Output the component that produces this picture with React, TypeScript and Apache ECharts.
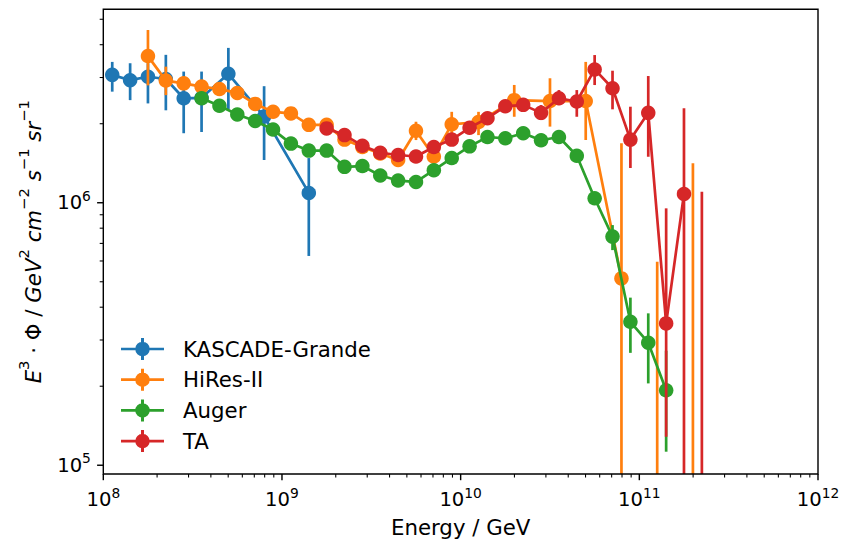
import React, { useEffect, useRef } from "react";
import * as echarts from "echarts";

const FONT = "DejaVu Sans";
const COLORS = ["#1f77b4", "#ff7f0e", "#2ca02c", "#d62728"];

// axis ranges
const X_MIN = 1e8;
const X_MAX = 1e12;
const Y_MIN = 9.26e4;
const Y_MAX = 5.457e6;

// ticks
const xMajorTicks = [1e8, 1e9, 1e10, 1e11, 1e12];
const xTickExponents = ["8", "9", "10", "11", "12"];
const xDecades = [1e8, 1e9, 1e10, 1e11];
const yMajorTicks = [1e5, 1e6];
const yTickExponents = ["5", "6"];
const yDecades = [1e5, 1e6];
const minorMantissas = [2, 3, 4, 5, 6, 7, 8, 9];

// KASCADE-Grande
const kgE = [1.122e8, 1.413e8, 1.778e8, 2.239e8, 2.818e8, 3.548e8, 5.012e8, 7.943e8, 1.413e9];
const kgY = [3.07e6, 2.93e6, 3.02e6, 2.96e6, 2.5e6, 2.51e6, 3.1e6, 2.13e6, 1.09e6];
const kgLo = [2.65e6, 2.46e6, 2.39e6, 2.25e6, 1.84e6, 1.86e6, 2.27e6, 1.455e6, 6.27e5];
const kgHi = [3.44e6, 3.4e6, 3.4e6, 3.66e6, 3.16e6, 3.16e6, 3.89e6, 2.78e6, 1.48e6];

// HiRes-II (null = no plotted point, error bar only; 0 = lower bound below axis)
const hrE = [1.778e8, 2.239e8, 2.818e8, 3.548e8, 4.467e8, 5.623e8, 7.079e8, 8.913e8, 1.122e9, 1.413e9,
  1.778e9, 2.239e9, 2.818e9, 3.548e9, 4.467e9, 5.623e9, 7.079e9, 8.913e9, 1.259e10, 1.995e10,
  3.162e10, 5.012e10, 7.943e10, 1.259e11, 1.995e11];
const hrY = [3.62e6, 2.92e6, 2.85e6, 2.77e6, 2.71e6, 2.62e6, 2.38e6, 2.22e6, 2.19e6, 1.98e6,
  1.98e6, 1.74e6, 1.63e6, 1.54e6, 1.455e6, 1.88e6, 1.5e6, 1.99e6, 2.03e6, 2.46e6,
  2.44e6, 2.44e6, 5.15e5, null, null];
const hrLo = [2.8e6, 2.57e6, 2.72e6, 2.66e6, 2.61e6, 2.53e6, 2.3e6, 2.15e6, 2.12e6, 1.91e6,
  1.91e6, 1.68e6, 1.57e6, 1.48e6, 1.39e6, 1.733e6, 1.39e6, 1.81e6, 1.81e6, 2.126e6,
  1.95e6, 1.734e6, 0, 0, 0];
const hrHi = [4.55e6, 3.3e6, 2.98e6, 2.88e6, 2.81e6, 2.71e6, 2.46e6, 2.29e6, 2.26e6, 2.05e6,
  2.05e6, 1.81e6, 1.7e6, 1.61e6, 1.53e6, 2.035e6, 1.61e6, 2.22e6, 2.22e6, 2.81e6,
  2.98e6, 3.44e6, 1.684e6, 5.96e5, 1.413e6];

// Auger
const auE = [3.548e8, 4.467e8, 5.623e8, 7.079e8, 8.913e8, 1.122e9, 1.413e9, 1.778e9, 2.239e9, 2.818e9,
  3.548e9, 4.467e9, 5.623e9, 7.079e9, 8.913e9, 1.122e10, 1.413e10, 1.778e10, 2.239e10, 2.818e10,
  3.548e10, 4.467e10, 5.623e10, 7.079e10, 8.913e10, 1.122e11, 1.413e11];
const auY = [2.5e6, 2.34e6, 2.17e6, 2.05e6, 1.9e6, 1.68e6, 1.58e6, 1.58e6, 1.37e6, 1.38e6,
  1.27e6, 1.215e6, 1.2e6, 1.33e6, 1.48e6, 1.64e6, 1.78e6, 1.76e6, 1.84e6, 1.73e6,
  1.78e6, 1.51e6, 1.04e6, 7.43e5, 3.52e5, 2.93e5, 1.93e5];
const auLo = [2.44e6, 2.28e6, 2.12e6, 2.0e6, 1.85e6, 1.64e6, 1.54e6, 1.54e6, 1.34e6, 1.35e6,
  1.24e6, 1.185e6, 1.17e6, 1.3e6, 1.44e6, 1.6e6, 1.73e6, 1.71e6, 1.79e6, 1.68e6,
  1.73e6, 1.45e6, 0.99e6, 6.6e5, 2.68e5, 2.05e5, 1.126e5];
const auHi = [2.56e6, 2.4e6, 2.22e6, 2.1e6, 1.95e6, 1.72e6, 1.62e6, 1.62e6, 1.4e6, 1.41e6,
  1.3e6, 1.245e6, 1.23e6, 1.36e6, 1.52e6, 1.68e6, 1.83e6, 1.81e6, 1.89e6, 1.78e6,
  1.83e6, 1.57e6, 1.09e6, 8.22e5, 4.35e5, 3.79e5, 2.73e5];

// TA
const taE = [1.778e9, 2.239e9, 2.818e9, 3.548e9, 4.467e9, 5.623e9, 7.079e9, 8.913e9, 1.122e10, 1.413e10,
  1.778e10, 2.239e10, 2.818e10, 3.548e10, 4.467e10, 5.623e10, 7.079e10, 8.913e10, 1.122e11, 1.413e11,
  1.778e11, 2.239e11];
const taY = [1.92e6, 1.81e6, 1.65e6, 1.55e6, 1.52e6, 1.5e6, 1.63e6, 1.74e6, 1.93e6, 2.1e6,
  2.33e6, 2.36e6, 2.2e6, 2.5e6, 2.43e6, 3.22e6, 2.73e6, 1.74e6, 2.2e6, 3.47e5,
  1.08e6, null];
const taLo = [1.86e6, 1.75e6, 1.6e6, 1.5e6, 1.47e6, 1.45e6, 1.56e6, 1.67e6, 1.85e6, 2.01e6,
  2.21e6, 2.24e6, 2.065e6, 2.356e6, 2.126e6, 2.808e6, 2.269e6, 1.356e6, 1.497e6, 1.284e5,
  0, 0];
const taHi = [1.98e6, 1.87e6, 1.7e6, 1.6e6, 1.57e6, 1.55e6, 1.7e6, 1.81e6, 2.01e6, 2.19e6,
  2.45e6, 2.48e6, 2.356e6, 2.687e6, 2.687e6, 3.653e6, 3.184e6, 2.322e6, 3.039e6, 9.52e5,
  2.29e6, 1.101e6];

const seriesNames = ["KASCADE-Grande", "HiRes-II", "Auger", "TA"];

const LINE_W = 2.7;
const MARKER = 14.5;
const TICK_FONT = 19.6;
const LABEL_FONT = 21.3;

const tickRich = {
  b: { fontFamily: FONT, fontSize: TICK_FONT, lineHeight: 24, verticalAlign: "bottom", fill: "#000" },
  s: { fontFamily: FONT, fontSize: 13.8, lineHeight: 15, verticalAlign: "top", fill: "#000" },
};

const legendIconPath =
  "path://M0 9.65H43V12.35H0Z M20 0H23V22H20Z M14.25 11A7.25 7.25 0 1 1 28.75 11A7.25 7.25 0 1 1 14.25 11Z";

function errSeries(name: string, color: string, E: number[], lo: number[], hi: number[], z: number) {
  return {
    type: "custom",
    name: name + " errors",
    z,
    silent: true,
    clip: false,
    encode: { x: 0, y: 2 },
    data: E.map((e, i) => [e, lo[i], hi[i]]),
    renderItem: (params: any, api: any) => {
      const cs = params.coordSys;
      const top = cs.y;
      const bottom = cs.y + cs.height;
      const e = api.value(0);
      const l = api.value(1);
      const h = api.value(2);
      const pH = api.coord([e, h]);
      const x = pH[0];
      let yH = pH[1];
      let yL = l > 0 ? api.coord([e, l])[1] : bottom;
      yH = Math.max(top, Math.min(bottom, yH));
      yL = Math.max(top, Math.min(bottom, yL));
      return {
        type: "line",
        shape: { x1: x, y1: yL, x2: x, y2: yH },
        style: { stroke: color, lineWidth: LINE_W },
      };
    },
  };
}

function lineSeries(name: string, color: string, E: number[], Y: (number | null)[], z: number) {
  const data: number[][] = [];
  E.forEach((e, i) => {
    const v = Y[i];
    if (v !== null && v !== undefined) data.push([e, v]);
  });
  return {
    type: "line",
    name,
    z,
    silent: true,
    data,
    symbol: "circle",
    symbolSize: MARKER,
    showSymbol: true,
    lineStyle: { width: LINE_W, color },
    itemStyle: { color, borderWidth: 0 },
    emphasis: { disabled: true },
  };
}

export default function App() {
  const ref = useRef<HTMLDivElement>(null);

  useEffect(() => {
    if (!ref.current) return;
    const chart = echarts.init(ref.current, undefined, { renderer: "svg" });

    const xMinor: number[][] = [];
    xDecades.forEach((d) => minorMantissas.forEach((m) => xMinor.push([m * d, Y_MIN])));
    const yMinor: number[][] = [];
    yDecades.forEach((d) =>
      minorMantissas.forEach((m) => {
        const v = m * d;
        if (v <= Y_MAX) yMinor.push([X_MIN, v]);
      })
    );

    const option: any = {
      animation: false,
      textStyle: { fontFamily: FONT },
      grid: { left: 103.3, top: 9.3, right: 25, bottom: 73, show: false, containLabel: false },
      legend: {
        data: seriesNames.map((n) => ({ name: n, icon: legendIconPath })),
        orient: "vertical",
        left: 116,
        top: 333,
        itemWidth: 43,
        itemHeight: 22,
        itemGap: 8.7,
        selectedMode: false,
        itemStyle: { borderWidth: 0 },
        textStyle: {
          fontFamily: FONT,
          fontSize: LABEL_FONT,
          color: "#000",
          lineHeight: 22,
          padding: [0, 0, 0, 14],
        },
      },
      xAxis: {
        type: "log",
        logBase: 10,
        min: X_MIN,
        max: X_MAX,
        axisLine: { show: false },
        axisTick: { show: false },
        axisLabel: { show: false },
        splitLine: { show: false },
        name: "Energy / GeV",
        nameLocation: "middle",
        nameGap: 43,
        nameTextStyle: { fontFamily: FONT, fontSize: LABEL_FONT, color: "#000" },
      },
      yAxis: {
        type: "log",
        logBase: 10,
        min: Y_MIN,
        max: Y_MAX,
        axisLine: { show: false },
        axisTick: { show: false },
        axisLabel: { show: false },
        splitLine: { show: false },
        name:
          "{i|E}{p|3}{n| · Φ / }{i|GeV}{p|2}{n| }{i|cm}{p|−2}{n| }{i|s}{p|−1}{n| }{i|sr}{p|−1}",
        nameLocation: "middle",
        nameGap: 59,
        nameRotate: 90,
        nameTextStyle: {
          fontFamily: FONT,
          fontSize: LABEL_FONT,
          color: "#000",
          rich: {
            i: { fontFamily: FONT, fontSize: LABEL_FONT, fontStyle: "italic", color: "#000", lineHeight: 28, verticalAlign: "bottom" },
            n: { fontFamily: FONT, fontSize: LABEL_FONT, color: "#000", lineHeight: 28, verticalAlign: "bottom" },
            p: { fontFamily: FONT, fontSize: 14.8, color: "#000", lineHeight: 15, verticalAlign: "top" },
          },
        },
      },
      series: [
        errSeries(seriesNames[0], COLORS[0], kgE, kgLo, kgHi, 2),
        lineSeries(seriesNames[0], COLORS[0], kgE, kgY, 3),
        errSeries(seriesNames[1], COLORS[1], hrE, hrLo, hrHi, 4),
        lineSeries(seriesNames[1], COLORS[1], hrE, hrY, 5),
        errSeries(seriesNames[2], COLORS[2], auE, auLo, auHi, 6),
        lineSeries(seriesNames[2], COLORS[2], auE, auY, 7),
        errSeries(seriesNames[3], COLORS[3], taE, taLo, taHi, 8),
        lineSeries(seriesNames[3], COLORS[3], taE, taY, 9),
        // frame (spines)
        {
          type: "custom",
          name: "frame",
          z: 20,
          silent: true,
          clip: false,
          data: [[X_MIN, Y_MIN]],
          renderItem: (params: any) => {
            const cs = params.coordSys;
            return {
              type: "rect",
              shape: { x: cs.x, y: cs.y, width: cs.width, height: cs.height },
              style: { fill: "none", stroke: "#000", lineWidth: 1.42 },
            };
          },
        },
        // x major ticks + labels
        {
          type: "custom",
          name: "xMajor",
          z: 20,
          silent: true,
          clip: false,
          data: xMajorTicks.map((v) => [v, Y_MIN]),
          renderItem: (params: any, api: any) => {
            const cs = params.coordSys;
            const yb = cs.y + cs.height;
            const x = api.coord([api.value(0), Y_MIN])[0];
            return {
              type: "group",
              children: [
                { type: "line", shape: { x1: x, y1: yb, x2: x, y2: yb + 6.2 }, style: { stroke: "#000", lineWidth: 1.42 } },
                {
                  type: "text",
                  style: {
                    text: "{b|10}{s|" + xTickExponents[params.dataIndex] + "}",
                    rich: tickRich,
                    x,
                    y: yb + 11.5,
                    align: "center",
                    verticalAlign: "top",
                  },
                },
              ],
            };
          },
        },
        // x minor ticks
        {
          type: "custom",
          name: "xMinor",
          z: 20,
          silent: true,
          clip: false,
          data: xMinor,
          renderItem: (params: any, api: any) => {
            const cs = params.coordSys;
            const yb = cs.y + cs.height;
            const x = api.coord([api.value(0), Y_MIN])[0];
            return { type: "line", shape: { x1: x, y1: yb, x2: x, y2: yb + 3.6 }, style: { stroke: "#000", lineWidth: 1.07 } };
          },
        },
        // y major ticks + labels
        {
          type: "custom",
          name: "yMajor",
          z: 20,
          silent: true,
          clip: false,
          data: yMajorTicks.map((v) => [X_MIN, v]),
          renderItem: (params: any, api: any) => {
            const cs = params.coordSys;
            const xl = cs.x;
            const y = api.coord([X_MIN, api.value(1)])[1];
            return {
              type: "group",
              children: [
                { type: "line", shape: { x1: xl - 6.2, y1: y, x2: xl, y2: y }, style: { stroke: "#000", lineWidth: 1.42 } },
                {
                  type: "text",
                  style: {
                    text: "{b|10}{s|" + yTickExponents[params.dataIndex] + "}",
                    rich: tickRich,
                    x: xl - 12.4,
                    y: y - 2,
                    align: "right",
                    verticalAlign: "middle",
                  },
                },
              ],
            };
          },
        },
        // y minor ticks
        {
          type: "custom",
          name: "yMinor",
          z: 20,
          silent: true,
          clip: false,
          data: yMinor,
          renderItem: (params: any, api: any) => {
            const cs = params.coordSys;
            const xl = cs.x;
            const y = api.coord([X_MIN, api.value(1)])[1];
            return { type: "line", shape: { x1: xl - 3.6, y1: y, x2: xl, y2: y }, style: { stroke: "#000", lineWidth: 1.07 } };
          },
        },
      ],
    };

    chart.setOption(option);
    return () => chart.dispose();
  }, []);

  return (
    <div
      ref={ref}
      style={{ position: "absolute", left: 0, top: 0, width: 843, height: 547, background: "#fff" }}
    />
  );
}
